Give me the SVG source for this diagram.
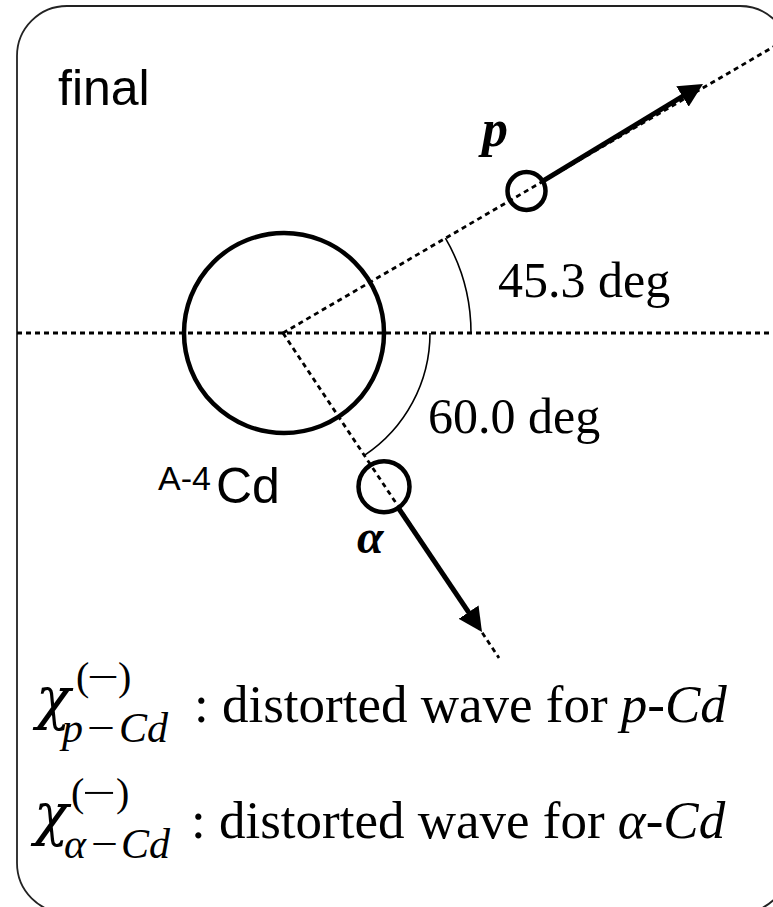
<svg xmlns="http://www.w3.org/2000/svg" width="773" height="907" viewBox="0 0 773 907">
<style>
.frame{fill:none;stroke:#222;stroke-width:1.8}
.dash{fill:none;stroke:#000;stroke-width:2.8;stroke-dasharray:5 4}
.arc{fill:none;stroke:#000;stroke-width:1.6}
.arrow{fill:none;stroke:#000;stroke-width:5}
.ring{fill:none;stroke:#000;stroke-width:4.5}
.sans{font-family:"Liberation Sans",Arial,sans-serif;fill:#000}
.serif{font-family:"Liberation Serif","Times New Roman",serif;fill:#000}
.chi{font-family:"DejaVu Serif",serif;font-style:italic;fill:#000}
.it{font-style:italic}
.bi{font-style:italic;font-weight:bold}
</style>
<defs>
<marker id="head" viewBox="0 -12 24 24" refX="2" refY="0" markerWidth="24" markerHeight="24" markerUnits="userSpaceOnUse" orient="auto">
<path d="M0,-12 L24,0 L0,12 z" fill="#000"/>
</marker>
</defs>
<rect width="773" height="907" fill="#fff"/>
<g id="frame">
<rect class="frame" x="17" y="6" width="773" height="907" rx="50" ry="50"/>
<text class="sans" x="58" y="105" font-size="50">final</text>
</g>
<g id="connectors">
<path class="dash" d="M17,333 H790"/>
<path class="dash" d="M283,333 L780,43"/>
<path class="dash" d="M283,333 L499,658"/>
<path class="arc" d="M471,333 A188,188 0 0 0 445.4,238.2"/>
<path class="arc" d="M430,333 A147,147 0 0 1 364.4,455.4"/>
<path class="arrow" d="M542.7,181.1 L684.2,95.4" marker-end="url(#head)"/>
<path class="arrow" d="M398.3,507.8 L469.7,613.8" marker-end="url(#head)"/>
</g>
<g id="nucleus">
<circle class="ring" cx="284" cy="333" r="100"/>
<text class="sans" x="158" y="490" font-size="34">A-4</text>
<text class="sans" x="216" y="503" font-size="50">Cd</text>
</g>
<g id="proton">
<circle class="ring" cx="526.5" cy="191" r="19"/>
<text class="serif bi" x="482" y="146" font-size="52">p</text>
</g>
<g id="alpha">
<circle class="ring" cx="384" cy="486.7" r="25.5"/>
<text class="serif bi" x="357" y="553" font-size="48">α</text>
</g>
<g id="angle-labels">
<text class="serif" x="498" y="297" font-size="50">45.3 deg</text>
<text class="serif" x="428" y="433" font-size="50">60.0 deg</text>
</g>
<g id="legend">
<text class="chi" x="36" y="718" font-size="57">χ</text>
<text class="serif" y="690" font-size="40"><tspan x="76">(</tspan><tspan x="87" textLength="32" lengthAdjust="spacingAndGlyphs">−</tspan><tspan x="118">)</tspan></text>
<text class="serif it" y="742" font-size="42"><tspan x="62">p</tspan><tspan x="87" font-style="normal" textLength="28" lengthAdjust="spacingAndGlyphs">−</tspan><tspan x="119">Cd</tspan></text>
<text class="serif" x="194" y="722" font-size="53">: distorted wave for <tspan class="it">p</tspan>-<tspan class="it">Cd</tspan></text>
<text class="chi" x="34" y="834" font-size="57">χ</text>
<text class="serif" y="806" font-size="40"><tspan x="71">(</tspan><tspan x="82" textLength="34" lengthAdjust="spacingAndGlyphs">−</tspan><tspan x="116">)</tspan></text>
<text class="serif it" y="858" font-size="42"><tspan x="64">α</tspan><tspan x="91" font-style="normal" textLength="27" lengthAdjust="spacingAndGlyphs">−</tspan><tspan x="121">Cd</tspan></text>
<text class="serif" x="191" y="838" font-size="53">: distorted wave for <tspan class="it">α</tspan>-<tspan class="it">Cd</tspan></text>
</g>
</svg>
